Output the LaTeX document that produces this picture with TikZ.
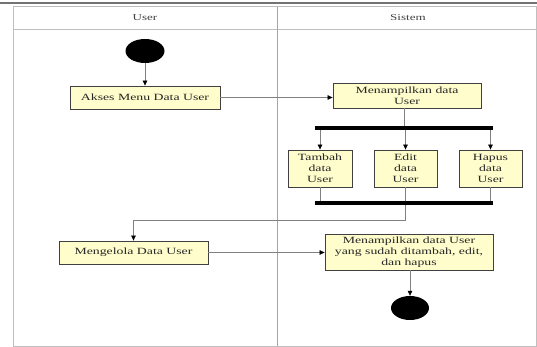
\documentclass[tikz,border=0pt]{standalone}
\usepackage{fontspec}
\setmainfont[FakeStretch=1.45]{Liberation Serif}
\usetikzlibrary{shapes.geometric,arrows.meta}
\definecolor{actfill}{RGB}{255,253,204}
\begin{document}
\begin{tikzpicture}[x=1pt,y=-1pt,
 act/.style={draw=black!75, line width=0.8pt, fill=actfill, font=\fontsize{9.5}{11}\selectfont, align=center, inner sep=0pt, text=black!85},
 lane/.style={font=\fontsize{9}{11}\selectfont, text=black!75},
 bar/.style={fill=black, draw=none, minimum height=4pt, minimum width=178pt, inner sep=0pt},
 dot/.style={ellipse, fill=black, minimum width=39pt, minimum height=24pt, inner sep=0pt},
 conn/.style={draw=black!50, line width=0.7pt},
 arr/.style={conn, -{Triangle[length=5pt,width=4.5pt,color=black]}},
]
\useasboundingbox (0,0) rectangle (537,347);
% frame
\draw[black!55, line width=1.5pt] (0,3) -- (537,3);
\draw[black!25, line width=1pt] (13,7) -- (536,7) -- (536,346) -- (13,346) -- cycle;
\draw[black!25, line width=1pt] (13,30) -- (536,30);
\draw[black!35, line width=1pt] (277,7) -- (277,346);
\node[lane] (luser) at (145,18) {User};
\node[lane] (lsis) at (408,18) {Sistem};
% nodes
\node[dot] (start) at (145,51) {};
\node[act, minimum width=150pt, minimum height=23pt] (akses) at (145,97.5) {Akses Menu Data User};
\node[act, minimum width=148pt, minimum height=25pt] (men1) at (407,95.5) {Menampilkan data\\User};
\node[bar] (fork) at (404,128) {};
\node[act, minimum width=64pt, minimum height=37pt] (tambah) at (320,168.5) {Tambah\\data\\User};
\node[act, minimum width=63pt, minimum height=37pt] (edit) at (405.5,168.5) {Edit\\data\\User};
\node[act, minimum width=63pt, minimum height=37pt] (hapus) at (490.5,168.5) {Hapus\\data\\User};
\node[bar] (join) at (404,203) {};
\node[act, minimum width=149pt, minimum height=23pt] (kelola) at (133.5,252.5) {Mengelola Data User};
\node[act, minimum width=168pt, minimum height=36pt] (men2) at (409,252) {Menampilkan data User\\yang sudah ditambah, edit,\\dan hapus};
\node[dot, minimum width=38pt] (end) at (410,308) {};
% connectors
\draw[arr] (start) -- (akses);
\draw[arr] (akses.east) -- (akses.east -| men1.west);
\draw[conn] (men1.south -| fork) -- (fork.north);
\draw[arr] (fork.south -| tambah) -- (tambah.north);
\draw[arr] (fork.south -| edit) -- (edit.north);
\draw[arr] (fork.south -| hapus) -- (hapus.north);
\draw[conn] (tambah.south) -- (tambah.south |- join.north);
\draw[conn] (edit.south) -- (edit.south |- join.north);
\draw[conn] (hapus.south) -- (hapus.south |- join.north);
\draw[arr] (join.south -| edit) -- ++(0,15) -| (kelola.north);
\draw[arr] (kelola.east) -- (kelola.east -| men2.west);
\draw[arr] (men2.south -| end) -- (end);
\end{tikzpicture}
\end{document}
